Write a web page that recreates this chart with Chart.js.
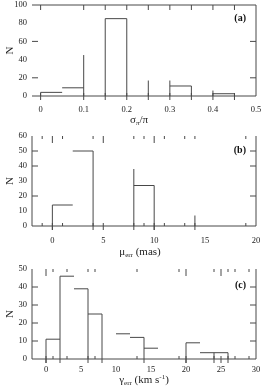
<!DOCTYPE html>
<html>
<head>
<meta charset="utf-8">
<script src="https://cdn.jsdelivr.net/npm/chart.js@4.4.0/dist/chart.umd.min.js"></script>
<style>
  body { margin: 0; background: #fff; width: 262px; height: 392px; position: relative; overflow: hidden; font-family: "Liberation Serif", serif; }
  .panel { position: absolute; left: 0; width: 262px; }
  .xt { position: absolute; font-size: 11px; color: #222; white-space: nowrap; transform: translate(-50%, -50%); }
  .xt sub { font-size: 7px; vertical-align: -2px; }
  .xt sup { font-size: 7px; vertical-align: 4px; }
  .tag { position: absolute; right: 16px; font-size: 10px; font-weight: bold; color: #111; }
</style>
</head>
<body>
<div class="panel" style="top:0;height:128px"><canvas id="chart-a"></canvas></div>
<div class="panel" style="top:128px;height:130px"><canvas id="chart-b"></canvas></div>
<div class="panel" style="top:258px;height:134px"><canvas id="chart-c"></canvas></div>

<div class="xt" style="left:139px;top:120px">σ<sub>π</sub>/π</div>
<div class="xt" style="left:140px;top:252px">μ<sub>err</sub> (mas)</div>
<div class="xt" style="left:144px;top:380px">γ<sub>err</sub> (km s<sup>-1</sup>)</div>
<div class="tag" style="top:12px">(a)</div>
<div class="tag" style="top:144px">(b)</div>
<div class="tag" style="top:279px">(c)</div>

<script>
// (a) parallax error
const aBinLeft = [0, 0.05, 0.15, 0.3, 0.4];
const aBinN = [4, 9, 85, 11, 2.5];
const aEdgeX = [0, 0.1, 0.15, 0.2, 0.25, 0.3, 0.35, 0.4, 0.45];
const aEdgeN = [4, 45, 85, 85, 17, 17, 11, 6, 2.5];
const aRug = [0, 0.1, 0.15, 0.2, 0.25, 0.3, 0.35, 0.4, 0.45];
const aXTicks = [0, 0.1, 0.2, 0.3, 0.4, 0.5];
const aYTicks = [0, 20, 40, 60, 80, 100];
const aYInner = [20, 60];

// (b) proper motion error
const bBinLeft = [0, 2, 8];
const bBinN = [14, 50, 27];
const bEdgeX = [0, 4, 8, 10, 14];
const bEdgeN = [14, 50, 38, 27, 7];
const bRug = [-1, 0, 1, 4, 5, 8, 9, 10, 11, 13, 14, 19];
const bLong = [0, 5, 10];
const bXTicks = [0, 5, 10, 15, 20];
const bYTicks = [0, 10, 20, 30, 40, 50, 60];
const bYInner = [20, 40, 50];

// (c) velocity error
const cBinLeft = [0, 2, 4, 6, 10, 12, 14, 20, 22, 24];
const cBinN = [11, 46, 39, 25, 14, 12, 6, 9, 3.5, 3.5];
const cEdgeX = [0, 2, 6, 8, 14, 20, 24, 26];
const cEdgeN = [11, 46, 39, 25, 12, 9, 3.5, 3.5];
const cRug = [0, 1, 3, 6, 7, 13, 19, 20, 24, 25, 26, 27, 29];
const cLong = [0, 20, 25];
const cXTicks = [0, 5, 10, 15, 20, 25, 30];
const cYTicks = [0, 10, 20, 30, 40, 50];
const cYInner = [10, 20, 30, 40];

const INK = '#484848';

function seg(points) {
  return { data: points, showLine: true, borderColor: INK, borderWidth: 1, pointRadius: 0, clip: false };
}

function histSets(binLeft, binN, width, edgeX, edgeN) {
  const sets = [];
  binLeft.forEach((x0, i) => sets.push(seg([{ x: x0, y: binN[i] }, { x: x0 + width, y: binN[i] }])));
  edgeX.forEach((xe, i) => sets.push(seg([{ x: xe, y: 0 }, { x: xe, y: edgeN[i] }])));
  return sets;
}

// frame, inward ticks and the little rug marks
const frameTicks = {
  id: 'frameTicks',
  afterDatasetsDraw(chart, args, o) {
    const { ctx, chartArea: { left, right, top, bottom }, scales: { x, y } } = chart;
    ctx.save();
    ctx.strokeStyle = INK;
    ctx.lineWidth = 1;
    ctx.beginPath();
    if (o.sides.includes('top')) { ctx.moveTo(left, top); ctx.lineTo(right, top); }
    if (o.sides.includes('left')) { ctx.moveTo(left, top); ctx.lineTo(left, bottom); }
    if (o.sides.includes('right')) { ctx.moveTo(right, top); ctx.lineTo(right, bottom); }
    ctx.moveTo(left, bottom); ctx.lineTo(right, bottom);
    o.yInner.forEach(v => {
      const py = y.getPixelForValue(v);
      ctx.moveTo(left, py); ctx.lineTo(left + 6, py);
      ctx.moveTo(right, py); ctx.lineTo(right - 6, py);
    });
    o.rug.forEach(v => {
      const px = x.getPixelForValue(v);
      const long = o.long.includes(v);
      ctx.moveTo(px, top); ctx.lineTo(px, top + (long ? o.longLen : o.shortLen));
      ctx.moveTo(px, bottom); ctx.lineTo(px, bottom - 3);
      if (long) { ctx.moveTo(px, bottom); ctx.lineTo(px, bottom + 4); }
    });
    o.edges.forEach(v => {
      const px = x.getPixelForValue(v);
      ctx.moveTo(px, bottom); ctx.lineTo(px, bottom + 4);
    });
    ctx.stroke();
    ctx.restore();
  }
};

function makeChart(id, sets, xMin, xMax, xTicks, yMax, yTicks, padTop, xHeight, labelPad, frame) {
  return new Chart(document.getElementById(id), {
    type: 'scatter',
    data: { datasets: sets },
    options: {
      responsive: true,
      maintainAspectRatio: false,
      animation: false,
      layout: { padding: { top: padTop, right: 6, left: 0, bottom: 0 } },
      plugins: { legend: { display: false }, tooltip: { enabled: false }, frameTicks: frame },
      scales: {
        x: {
          type: 'linear', min: xMin, max: xMax,
          grid: { display: false, drawTicks: false },
          border: { display: false },
          afterBuildTicks: s => { s.ticks = xTicks.map(v => ({ value: v })); },
          afterFit: s => { s.height = xHeight; s.paddingLeft = 0; s.paddingRight = 0; },
          ticks: { padding: labelPad, color: '#222', font: { family: 'Liberation Serif', size: 8.5 }, callback: v => String(v), maxRotation: 0, autoSkip: false }
        },
        y: {
          type: 'linear', min: 0, max: yMax,
          grid: { display: false, drawTicks: false },
          border: { display: false },
          afterBuildTicks: s => { s.ticks = yTicks.map(v => ({ value: v })); },
          afterFit: s => { s.width = 32; s.paddingTop = 0; s.paddingBottom = 0; },
          ticks: { padding: 5, color: '#222', font: { family: 'Liberation Serif', size: 8.5 }, callback: v => String(v) },
          title: { display: true, text: 'N', color: '#222', font: { family: 'Liberation Serif', size: 11 }, padding: { top: 4, bottom: 0 } }
        }
      }
    },
    plugins: [frameTicks]
  });
}

makeChart('chart-a', histSets(aBinLeft, aBinN, 0.05, aEdgeX, aEdgeN), -0.02, 0.5, aXTicks, 100, aYTicks, 5, 32, 9,
  { sides: ['top', 'right'], yInner: aYInner, rug: aRug, long: [], shortLen: 5, longLen: 5, edges: aEdgeX });

makeChart('chart-b', histSets(bBinLeft, bBinN, 2, bEdgeX, bEdgeN), -2, 20, bXTicks, 60, bYTicks, 8, 32, 10,
  { sides: ['left', 'right'], yInner: bYInner, rug: bRug, long: bLong, shortLen: 3, longLen: 7, edges: bEdgeX });

makeChart('chart-c', histSets(cBinLeft, cBinN, 2, cEdgeX, cEdgeN), -2, 30, cXTicks, 50, cYTicks, 11, 33, 6,
  { sides: ['left', 'right'], yInner: cYInner, rug: cRug, long: cLong, shortLen: 3, longLen: 7, edges: cEdgeX });
</script>
</body>
</html>
